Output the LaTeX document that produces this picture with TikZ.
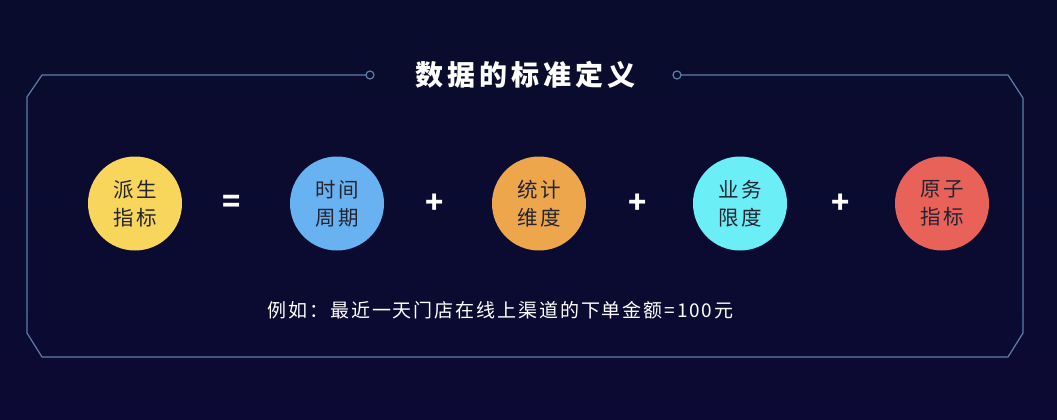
\documentclass[tikz,border=0pt]{standalone}
\usepackage{fontspec}
\setmainfont{Noto Sans CJK SC}
\newfontfamily\titlefont[LetterSpace=14]{Noto Sans CJK SC}
\newfontfamily\circfont[LetterSpace=10]{Noto Sans CJK SC}
\newfontfamily\notefont[LetterSpace=10]{Noto Sans CJK SC}
\definecolor{bgtop}{RGB}{9,12,44}
\definecolor{bgbot}{RGB}{12,10,52}
\definecolor{framec}{RGB}{95,125,170}
\definecolor{cyellow}{RGB}{248,214,91}
\definecolor{cblue}{RGB}{104,178,242}
\definecolor{corange}{RGB}{238,166,76}
\definecolor{ccyan}{RGB}{108,238,247}
\definecolor{cred}{RGB}{233,98,90}
\definecolor{ctext}{RGB}{36,36,48}
\tikzset{
  term/.style={circle, minimum size=94pt, inner sep=0pt, text=ctext,
    font=\circfont\fontsize{20.5}{28}\selectfont, align=center},
  oper/.style={text=white, font=\bfseries\fontsize{30}{30}\selectfont, inner sep=0pt},
  framel/.style={draw=framec, line width=1.2pt},
}
\begin{document}
\begin{tikzpicture}[x=1pt,y=-1pt]
\shade[top color=bgtop, bottom color=bgbot] (0,0) rectangle (1057,420);
\useasboundingbox (0,0) rectangle (1057,420);
% frame
\draw[framel] (366,75) -- (42,75) -- (27,97) -- (27,333) -- (42,357)
  -- (1008,357) -- (1023,333) -- (1023,98) -- (1008,75) -- (681,75);
\draw[framel] (370,75) circle (4);
\draw[framel] (677,75) circle (4);
% title
\node[text=white, font=\titlefont\bfseries\fontsize{28}{28}\selectfont, inner sep=0pt] (title) at (525.5,75) {数据的标准定义};
% terms
\node[term, fill=cyellow] (derived) at (135,203.5) {派生\\指标};
\node[oper] (eq) at (232,204) {=};
\node[term, fill=cblue] (time) at (337,203.5) {时间\\周期};
\node[oper] (p1) at (435,204) {+};
\node[term, fill=corange] (dim) at (539,203.5) {统计\\维度};
\node[oper] (p2) at (638,204) {+};
\node[term, fill=ccyan] (limit) at (740,203.5) {业务\\限度};
\node[oper] (p3) at (841,204) {+};
\node[term, fill=cred] (atomic) at (942,203.5) {原子\\指标};
% example
\node[text=white, font=\notefont\fontsize{19}{19}\selectfont, inner sep=0pt] (example) at (500.5,310) {例如：最近一天门店在线上渠道的下单金额=100元};
\end{tikzpicture}
\end{document}
